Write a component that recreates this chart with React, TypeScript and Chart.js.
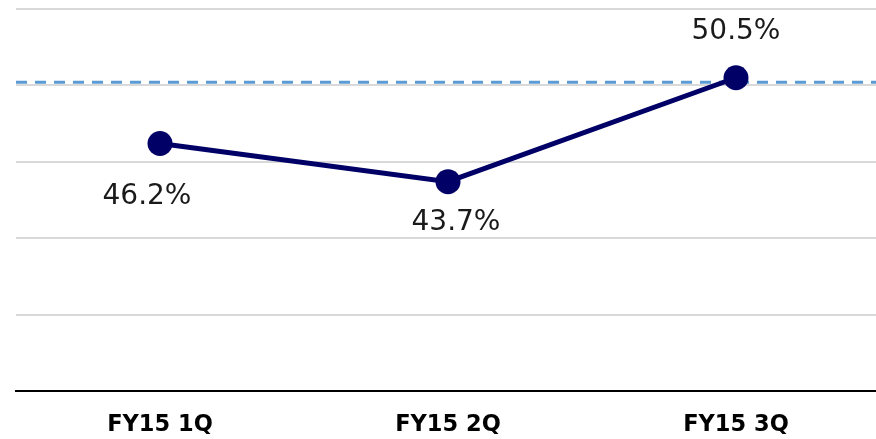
import React, { useEffect, useRef } from "react";
import { Chart, registerables } from "chart.js";

Chart.register(...registerables);

const categories = ["FY15 1Q", "FY15 2Q", "FY15 3Q"];
const ratioValues = [46.2, 43.7, 50.5];
const targetValue = 50.2;
const yMin = 30;
const yMax = 55;
const yStep = 5;

// label placement relative to each point (dx, dy in px)
const labelOffsets = [
  { dx: -13, dy: 53 },
  { dx: 8, dy: 41 },
  { dx: 0, dy: -46 },
];

const targetLinePlugin = {
  id: "targetLine",
  beforeDatasetsDraw(chart: any) {
    const { ctx, chartArea, scales } = chart;
    const y = scales.y.getPixelForValue(targetValue);
    ctx.save();
    ctx.strokeStyle = "#5B9BD5";
    ctx.lineWidth = 3;
    ctx.setLineDash([11, 8]);
    ctx.beginPath();
    ctx.moveTo(chartArea.left, y);
    ctx.lineTo(chartArea.right, y);
    ctx.stroke();
    ctx.restore();
  },
};

const valueLabelPlugin = {
  id: "valueLabels",
  afterDatasetsDraw(chart: any) {
    const { ctx } = chart;
    const meta = chart.getDatasetMeta(0);
    ctx.save();
    ctx.font = "28px 'DejaVu Sans'";
    ctx.fillStyle = "#1a1a1a";
    ctx.textAlign = "center";
    ctx.textBaseline = "middle";
    meta.data.forEach((pt: any, i: number) => {
      const off = labelOffsets[i];
      ctx.fillText(ratioValues[i].toFixed(1) + "%", pt.x + off.dx, pt.y + off.dy);
    });
    ctx.restore();
  },
};

export default function App() {
  const ref = useRef<HTMLCanvasElement>(null);
  useEffect(() => {
    if (!ref.current) return;
    const chart = new Chart(ref.current, {
      type: "line",
      data: {
        labels: categories,
        datasets: [
          {
            data: ratioValues,
            borderColor: "#000066",
            backgroundColor: "#000066",
            borderWidth: 5,
            pointRadius: 12.5,
            pointHoverRadius: 12.5,
            pointBackgroundColor: "#000066",
            pointBorderWidth: 0,
            tension: 0,
            clip: false,
          },
        ],
      },
      options: {
        responsive: false,
        animation: false,
        devicePixelRatio: 1,
        layout: { autoPadding: false, padding: { left: 16, right: 0, top: 9, bottom: 0 } },
        plugins: {
          legend: { display: false },
          tooltip: { enabled: false },
        },
        scales: {
          x: {
            offset: true,
            grid: { display: false, drawTicks: false },
            border: { display: true, color: "#000000", width: 2 },
            ticks: {
              color: "#000000",
              padding: 20.5,
              font: { family: "'DejaVu Sans'", size: 22.5, weight: "bold" },
            },
            afterFit(scale: any) {
              scale.height = 48;
            },
          },
          y: {
            min: yMin,
            max: yMax,
            ticks: { display: false, stepSize: yStep },
            grid: { color: "#d9d9d9", lineWidth: 2, drawTicks: false },
            border: { display: false },
          },
        },
      },
      plugins: [targetLinePlugin, valueLabelPlugin],
    });
    return () => chart.destroy();
  }, []);
  return (
    <div
      style={{
        position: "fixed",
        left: 0,
        top: 0,
        width: 876,
        height: 439,
        overflow: "hidden",
        background: "#ffffff",
      }}
    >
      <canvas ref={ref} width={880} height={439} style={{ display: "block" }} />
    </div>
  );
}
